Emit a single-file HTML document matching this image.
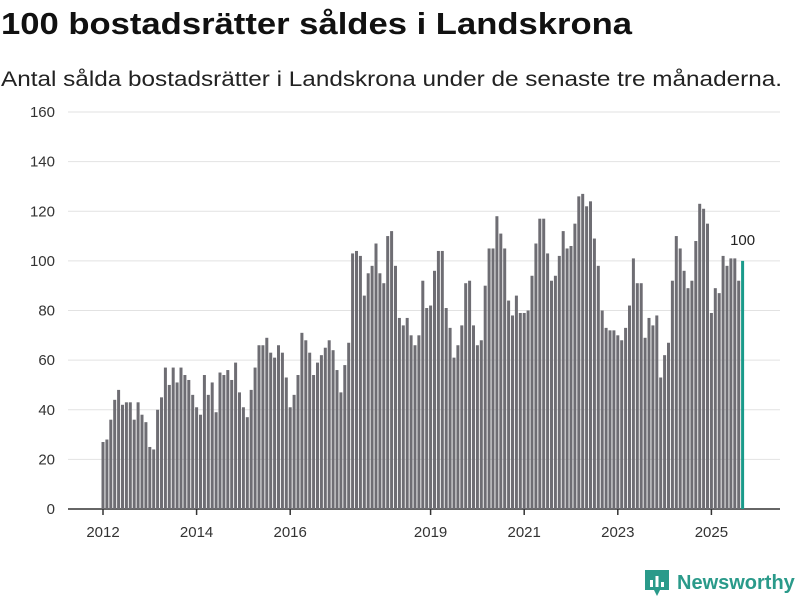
<!DOCTYPE html>
<html><head><meta charset="utf-8"><style>
body{margin:0;width:800px;height:600px;background:#fff;font-family:"Liberation Sans","DejaVu Sans",sans-serif;overflow:hidden}
</style></head><body>
<svg id="chart" width="800" height="600" style="position:absolute;left:0;top:0">
<text x="1" y="34" font-size="31" font-weight="bold" fill="#111" textLength="631" lengthAdjust="spacingAndGlyphs">100 bostadsrätter såldes i Landskrona</text>
<text x="1" y="86" font-size="21" fill="#222" textLength="781" lengthAdjust="spacingAndGlyphs">Antal sålda bostadsrätter i Landskrona under de senaste tre månaderna.</text>
</svg>
<script>
const values=[27,28,36,44,48,42,43,43,36,43,38,35,
25,24,40,45,57,50,57,51,57,54,52,46,
41,38,54,46,51,39,55,54,56,52,59,47,
41,37,48,57,66,66,69,63,61,66,63,53,
41,46,54,71,68,63,54,59,62,65,68,64,
56,47,58,67,103,104,102,86,95,98,107,95,
91,110,112,98,77,74,77,70,66,70,92,81,
82,96,104,104,81,73,61,66,74,91,92,74,
66,68,90,105,105,118,111,105,84,78,86,79,
79,80,94,107,117,117,103,92,94,102,112,105,
106,115,126,127,122,124,109,98,80,73,72,72,
70,68,73,82,101,91,91,69,77,74,78,53,
62,67,92,110,105,96,89,92,108,123,121,115,
79,89,87,102,98,101,101,92,100];
const yTicks=[0,20,40,60,80,100,120,140,160];
const xTickYears=[2012,2014,2016,2019,2021,2023,2025];
const startYear=2012;
const NS='http://www.w3.org/2000/svg';
const svg=document.getElementById('chart');
const y=v=>509-v*(397/160);
const x=i=>103+i*3.9;
function mk(t,a){const e=document.createElementNS(NS,t);for(const k in a)e.setAttribute(k,a[k]);svg.appendChild(e);return e;}
yTicks.forEach(t=>{
 const g=mk('line',{x1:68,x2:780,y1:y(t),y2:y(t),stroke:t===0?'#333':'#e2e2e2','stroke-width':t===0?1.5:1});
 
 
 const l=mk('text',{x:55,y:y(t)+5,'text-anchor':'end','font-size':15,fill:'#333'});
 l.textContent=t;
 
 
});
values.forEach((v,i)=>{
 const last=i===values.length-1;
 const r=mk('rect',{x:x(i)-1.5,y:y(v),width:3,height:y(0)-y(v),fill:last?'#1a9a8a':'#6e6d73'});
 
 
 if(last){const t=mk('text',{x:x(i),y:y(v)-16,'text-anchor':'middle','font-size':15,fill:'#222'});t.textContent=v;
 
 }
});
xTickYears.forEach(yr=>{
 const px=x((yr-startYear)*12);
 const tk=mk('line',{x1:px,x2:px,y1:509,y2:515,stroke:'#333','stroke-width':1.5});
 
 
 const l=mk('text',{x:px,y:537,'text-anchor':'middle','font-size':15,fill:'#333'});
 l.textContent=yr;
 
 
});
</script>
<div style="position:absolute;left:645px;top:570px;display:flex;align-items:center">
<svg width="24" height="26" viewBox="0 0 24 26"><path d="M0 0H24V20H15L12 26L9 20H0Z" fill="#2a9a8a"/><rect x="5" y="10" width="3" height="7" fill="#fff"/><rect x="10.5" y="6" width="3" height="11" fill="#fff"/><rect x="16" y="12" width="3" height="5" fill="#fff"/></svg>
<span style="font-size:20px;font-weight:bold;color:#2a9a8a;margin-left:8px">Newsworthy</span></div>
</body></html>
